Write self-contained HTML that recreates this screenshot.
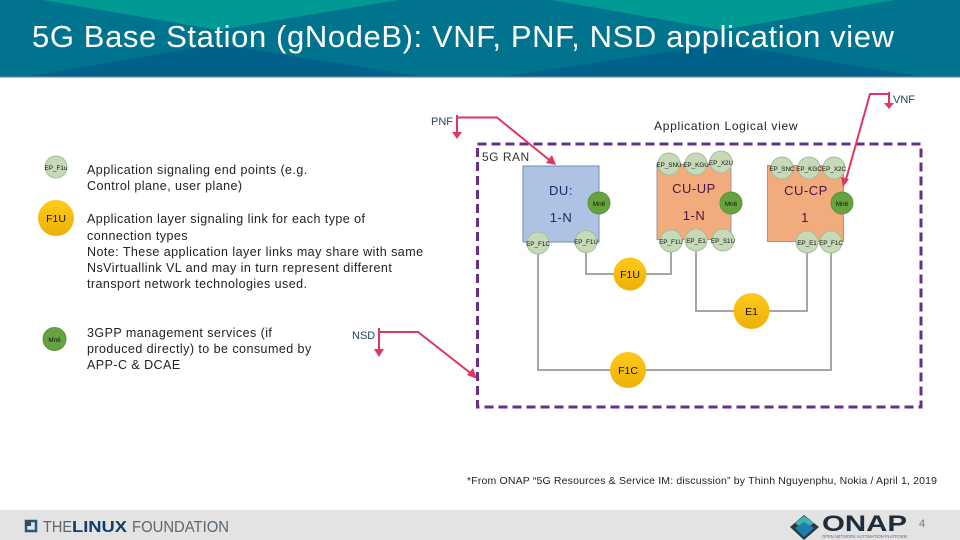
<!DOCTYPE html>
<html><head><meta charset="utf-8">
<style>
html,body{margin:0;padding:0;background:#fff}
svg{display:block}
text{font-family:"Liberation Sans",sans-serif}
.b{font-size:12.5px;fill:#222;letter-spacing:.45px}
.ep{font-size:6.3px;fill:#111;text-anchor:middle}
.lk{font-size:10.5px;fill:#111;text-anchor:middle}
.bx{font-size:13px;text-anchor:middle;letter-spacing:.5px}
.lb{font-size:11px;fill:#2b4257}
</style></head>
<body>
<svg width="960" height="540" viewBox="0 0 960 540" xmlns="http://www.w3.org/2000/svg">
<defs>
<linearGradient id="y" x1="0" y1="0" x2="0" y2="1"><stop offset="0" stop-color="#ffc91a"/><stop offset="1" stop-color="#edb106"/></linearGradient>
</defs>
<rect width="960" height="77" fill="#00738f"/>
<polygon points="43,0 398,0 218,30" fill="#009a94"/>
<polygon points="551,0 894,0 722,30" fill="#009a94"/>
<polygon points="25,77 218,44 425,77" fill="#00628a"/>
<polygon points="500,77 722,44 925,77" fill="#00628a"/>
<rect y="76" width="960" height="1.5" fill="#3f7f8f"/>
<text x="32" y="47" font-size="31" fill="#fff" textLength="862" lengthAdjust="spacing">5G Base Station (gNodeB): VNF, PNF, NSD application view</text>

<!-- legend -->
<circle cx="56" cy="167" r="11" fill="#c6dab8" stroke="#a5bd98"/>
<text class="ep" x="56" y="170">EP_F1u</text>
<circle cx="56" cy="218" r="18" fill="url(#y)"/>
<text class="lk" x="56" y="222">F1U</text>
<circle cx="54.500" cy="339" r="11.500" fill="#66a23f" stroke="#5a9438"/>
<text class="ep" x="54.500" y="342">Mn6</text>

<text class="b"><tspan x="87" y="174">Application signaling end points (e.g.</tspan><tspan x="87" y="190">Control plane, user plane)</tspan>
<tspan x="87" y="223">Application layer signaling link for each type of</tspan><tspan x="87" y="240">connection types</tspan><tspan x="87" y="256">Note: These application layer links may share with same</tspan><tspan x="87" y="272">NsVirtuallink VL and may in turn represent different</tspan><tspan x="87" y="288">transport network technologies used.</tspan>
<tspan x="87" y="337">3GPP management services (if</tspan><tspan x="87" y="353">produced directly) to be consumed by</tspan><tspan x="87" y="369">APP-C &amp; DCAE</tspan></text>

<text class="lb" x="431" y="125">PNF</text>
<text class="lb" x="352" y="339">NSD</text>
<text class="lb" x="893" y="103">VNF</text>
<text x="654" y="130" font-size="12" fill="#222" letter-spacing=".7">Application Logical view</text>
<text x="482" y="161" font-size="12" fill="#333" letter-spacing=".5">5G RAN</text>

<!-- dashed boundary -->
<rect x="477.500" y="144" width="443.500" height="263" fill="none" stroke="#65308a" stroke-width="3" stroke-dasharray="9 5"/>

<!-- connectors -->
<g fill="none" stroke="#a6a6a6" stroke-width="2">
<path d="M538 253V370H831V252"/>
<path d="M586 252V274H671V252"/>
<path d="M696 250V311H807V252"/>
</g>

<!-- boxes -->
<rect x="523" y="166" width="76" height="76" fill="#aec3e3" stroke="#6d8fb8"/>
<rect x="657" y="164.500" width="74" height="75" fill="#f2ab7c" stroke="#999"/>
<rect x="767.500" y="165.500" width="76" height="76" fill="#f2ab7c" stroke="#999"/>

<text class="bx" x="561" y="195" fill="#1a2a6c">DU:</text>
<text class="bx" x="561" y="222" fill="#1a2a6c">1-N</text>
<text class="bx" x="694" y="193" fill="#4a1540">CU-UP</text>
<text class="bx" x="694" y="220" fill="#4a1540">1-N</text>
<text class="bx" x="806" y="195" fill="#4a1540">CU-CP</text>
<text class="bx" x="805" y="222" fill="#4a1540">1</text>

<!-- endpoints -->
<g fill="#c6dab8" stroke="#a5bd98">
<circle cx="538" cy="243" r="11"/><circle cx="586" cy="241.500" r="11"/>
<circle cx="669" cy="164" r="11"/><circle cx="696" cy="164" r="11"/><circle cx="721" cy="162" r="11"/>
<circle cx="671" cy="241" r="11"/><circle cx="696" cy="240" r="11"/><circle cx="723" cy="240" r="11"/>
<circle cx="782" cy="168" r="11"/><circle cx="809" cy="168" r="11"/><circle cx="834" cy="168" r="11"/>
<circle cx="807" cy="242" r="11"/><circle cx="831" cy="242" r="11"/>
</g>
<g>
<text class="ep" x="538" y="246">EP_F1C</text><text class="ep" x="586" y="244">EP_F1U</text>
<text class="ep" x="669" y="167">EP_SNU</text><text class="ep" x="696" y="167">EP_KGU</text><text class="ep" x="721" y="165">EP_X2U</text>
<text class="ep" x="671" y="244">EP_F1U</text><text class="ep" x="696" y="243">EP_E1</text><text class="ep" x="723" y="243">EP_S1U</text>
<text class="ep" x="782" y="171">EP_SNC</text><text class="ep" x="809" y="171">EP_KGC</text><text class="ep" x="834" y="171">EP_X2C</text>
<text class="ep" x="807" y="245">EP_E1</text><text class="ep" x="831" y="245">EP_F1C</text>
</g>
<g fill="#66a23f" stroke="#5a9438">
<circle cx="599" cy="203" r="11"/><circle cx="731" cy="203" r="11"/><circle cx="842" cy="203" r="11"/>
</g>
<text class="ep" x="599" y="206">Mn6</text><text class="ep" x="731" y="206">Mn6</text><text class="ep" x="842" y="206">Mn6</text>

<!-- link nodes -->
<circle cx="630" cy="274" r="16.500" fill="url(#y)"/><text class="lk" x="630" y="278">F1U</text>
<circle cx="751.500" cy="311" r="18" fill="url(#y)"/><text class="lk" x="751.500" y="315">E1</text>
<circle cx="628" cy="370" r="18" fill="url(#y)"/><text class="lk" x="628" y="374">F1C</text>

<!-- callouts -->
<g fill="none" stroke="#e0355f" stroke-width="2">
<path d="M457 117.500H497L553 163"/>
<path d="M457 115V134"/>
<path d="M379 328V350"/>
<path d="M379 332H418L473 375"/>
<path d="M889 92V106"/>
<path d="M889 94H870L845 183"/>
</g>
<g fill="#e0355f">
<polygon points="452,132 462,132 457,139"/>
<polygon points="374,349 384,349 379,357"/>
<polygon points="884,103 894,103 889,109"/>
<polygon points="556,165 546,163 552,155"/>
<polygon points="477,379 467,375 473,368"/>
<polygon points="843,187 841,177 849,179"/>
</g>

<text x="467" y="484" font-size="10.500" fill="#222" textLength="470" lengthAdjust="spacing">*From ONAP “5G Resources &amp; Service IM: discussion” by Thinh Nguyenphu, Nokia / April 1, 2019</text>

<!-- footer -->
<rect y="510" width="960" height="30" fill="#e3e3e3"/>
<rect x="26" y="521" width="10" height="10" fill="none" stroke="#1f5a85" stroke-width="2.500"/>
<rect x="25" y="520" width="6" height="6" fill="#3a4a58"/>
<text x="43" y="532" font-size="15.500" fill="#5a6670" textLength="29" lengthAdjust="spacingAndGlyphs">THE</text>
<text x="72" y="532" font-size="15.500" font-weight="bold" fill="#123e6b" textLength="55" lengthAdjust="spacingAndGlyphs">LINUX</text>
<text x="132" y="532" font-size="15.500" fill="#5a6670" textLength="97" lengthAdjust="spacingAndGlyphs">FOUNDATION</text>

<polygon points="790,527 804,515 819,527 804,540" fill="#2a3a45"/>
<polygon points="795,523 804,516 814,523 804,530" fill="#3fb3ae"/>
<polygon points="795,528 804,522 814,528 804,537" fill="#1f7fa8"/>
<text x="822" y="531" font-size="22" font-weight="bold" fill="#1f2d3a" textLength="85" lengthAdjust="spacingAndGlyphs">ONAP</text>
<text x="822" y="538" font-size="4.500" fill="#667" textLength="85" lengthAdjust="spacingAndGlyphs">OPEN NETWORK AUTOMATION PLATFORM</text>
<text x="919" y="527" font-size="11" fill="#777">4</text>
</svg>
</body></html>
